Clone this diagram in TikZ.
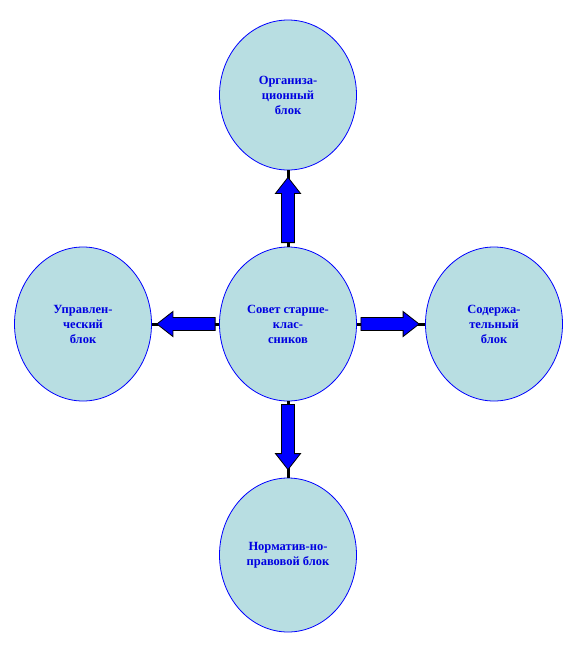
\documentclass[tikz,border=0pt]{standalone}
\usepackage{fontspec}
\setmainfont{Liberation Serif}
\usetikzlibrary{shapes.geometric,calc}
\definecolor{ellfill}{RGB}{184,222,226}
\definecolor{txtblue}{RGB}{0,0,225}
\tikzset{
  blk/.style={ellipse, draw=blue, line width=0.8pt, fill=ellfill, inner sep=0pt,
    minimum width=137pt, minimum height=154pt, align=center, text=txtblue,
    font=\fontsize{12.5}{15}\selectfont\bfseries},
  conn/.style={line width=3pt, black},
  barrow/.style={fill=blue, draw=black, line width=0.8pt, line join=miter}
}
% #1 start, #2 tip
\newcommand{\blockarr}[2]{%
  \coordinate (hb) at ($(#2)!16pt!(#1)$);
  \path[barrow] ($(#1)!6.5pt!90:(#2)$) -- ($(hb)!6.5pt!-90:(#1)$) -- ($(hb)!12.5pt!-90:(#1)$)
    -- (#2) -- ($(hb)!12.5pt!90:(#1)$) -- ($(hb)!6.5pt!90:(#1)$) -- ($(#1)!6.5pt!-90:(#2)$) -- cycle;}
\begin{document}
\begin{tikzpicture}[x=1pt,y=-1pt]
\useasboundingbox (0,0) rectangle (577,649);
\node[blk] (c) at (288,324) {Совет старше-\\клас-\\сников};
\node[blk, minimum height=150pt] (t) at (288,95) {Организа-\\ционный\\блок};
\node[blk] (l) at (83,324) {Управлен-\\ческий\\блок};
\node[blk] (r) at (494,324) {Содержа-\\тельный\\блок};
\node[blk] (b) at (288,555) {Норматив-но-\\правовой блок};
\draw[conn] (c.north) -- (t.south);
\draw[conn] (c.west) -- (l.east);
\draw[conn] (c.east) -- (r.west);
\draw[conn] (c.south) -- (b.north);
\coordinate (ts) at ($(c.north)+(0,-4)$);
\coordinate (tt) at ($(t.south)+(0,7)$);
\blockarr{ts}{tt}
\coordinate (ls) at ($(c.west)+(-4,0)$);
\coordinate (lt) at ($(l.east)+(5,0)$);
\blockarr{ls}{lt}
\coordinate (rs) at ($(c.east)+(4,0)$);
\coordinate (rt) at ($(r.west)+(-6,0)$);
\blockarr{rs}{rt}
\coordinate (bs) at ($(c.south)+(0,3)$);
\coordinate (bt) at ($(b.north)+(0,-8)$);
\blockarr{bs}{bt}
\end{tikzpicture}
\end{document}
